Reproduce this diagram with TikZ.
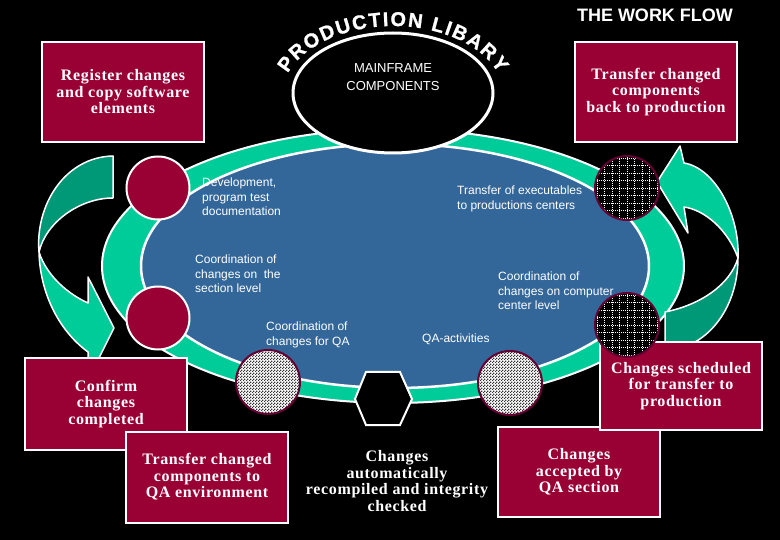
\documentclass[tikz,border=0pt]{standalone}
\usepackage{fontspec}
\setmainfont{Liberation Serif}
\setsansfont{Liberation Sans}
\usetikzlibrary{patterns,decorations.text,shapes.geometric}
\definecolor{crimson}{HTML}{990033}
\definecolor{rimred}{HTML}{660033}
\definecolor{ringteal}{HTML}{00CC99}
\definecolor{darkteal}{HTML}{009977}
\definecolor{lakeblue}{HTML}{336699}
\pgfdeclarepatternformonly{finechecker}{\pgfpointorigin}{\pgfqpoint{3pt}{3pt}}{\pgfqpoint{3pt}{3pt}}{%
  \pgfpathrectangle{\pgfpointorigin}{\pgfqpoint{1.5pt}{1.5pt}}%
  \pgfpathrectangle{\pgfqpoint{1.5pt}{1.5pt}}{\pgfqpoint{1.5pt}{1.5pt}}%
  \pgfusepath{fill}}
\newcommand{\cardfont}{\fontsize{16}{16.5}\selectfont\bfseries\addfontfeature{LetterSpace=4}}
\newcommand{\notefont}{\fontsize{12}{14.5}\selectfont\sffamily}
\newcommand{\arcfont}{\fontsize{20}{20}\selectfont\sffamily\bfseries\addfontfeature{FakeBold=1}}
\begin{document}
\begin{tikzpicture}[x=1pt,y=-1pt,
  card/.style={draw=white, line width=2pt, fill=crimson, text=white, font=\cardfont, align=center, inner sep=0pt, minimum width=162, minimum height=100},
  note/.style={text=white, font=\notefont, align=left, anchor=north west, inner sep=0pt},
  redstop/.style={circle, fill=crimson, draw=white, line width=2pt, minimum size=63, inner sep=0pt},
  gridstop/.style={circle, fill=black, draw=rimred, line width=2pt, minimum size=64, inner sep=0pt,
    path picture={\draw[white, line width=0.6pt, dash pattern=on 0.8pt off 1.2pt, step=7.5pt] (path picture bounding box.south west) grid (path picture bounding box.north east);}},
  checkstop/.style={circle, draw=rimred, line width=2pt, minimum size=64, inner sep=0pt, preaction={fill=white}, pattern=finechecker, pattern color=black!80},
  band/.style={draw=white, line width=1.5pt, line join=round}]
\useasboundingbox (0,0) rectangle (780,540);
\fill[black] (0,0) rectangle (780,540);

\filldraw[fill=ringteal, draw=white, line width=2pt] (393,266) ellipse[x radius=291, y radius=137];
\filldraw[fill=lakeblue, draw=white, line width=2.5pt] (395,266) ellipse[x radius=254, y radius=122];
\node[ellipse, fill=black, draw=white, line width=3pt, minimum width=200, minimum height=120] (mainframe) at (393,93) {};
\path[decorate, decoration={text along path, text color=white, text align=fit to path,
  text={|\arcfont|PRODUCTION LIBARY}}]
  (287.8,73.4) arc[start angle=200, end angle=340, x radius=112, y radius=72];

\filldraw[band, fill=darkteal] (113,156) -- (113,198) .. controls (80,198) and (46,222) .. (39,252) .. controls (35,205) and (65,157) .. (113,156) -- cycle;
\filldraw[band, fill=ringteal] (39,252) .. controls (40,292) and (58,330) .. (88,352) -- (88,380) -- (114,328) -- (88,277) -- (88,303) .. controls (70,295) and (47,277) .. (39,252) -- cycle;
\filldraw[band, fill=darkteal] (665,312) -- (665,350) .. controls (705,350) and (738,310) .. (738,258) .. controls (730,285) and (700,305) .. (665,312) -- cycle;
\filldraw[band, fill=ringteal] (738,258) .. controls (740,215) and (715,168) .. (684,163) -- (680,146) -- (657,182) -- (688,233) -- (684,207) .. controls (705,210) and (728,230) .. (738,258) -- cycle;

\node[card] (register) at (123,92) {Register changes\\and copy software\\elements};
\node[card] (backprod) at (656,92) {Transfer changed\\components\\back to production};
\node[card, minimum height=90] (accepted) at (579,472) {Changes\\accepted by\\QA section};
\node[card, minimum height=88] (scheduled) at (681,386) {Changes scheduled\\for transfer to\\production};
\node[card, minimum height=91] (confirm) at (106,404) {Confirm\\changes\\completed};
\node[card, minimum height=91] (toqa) at (207,477) {Transfer changed\\components to\\QA environment};
\node[text=white, font=\cardfont, align=center] (recompiled) at (397,481) {Changes\\automatically\\recompiled and integrity\\checked};

\node[redstop] (devstop) at (158,188) {};
\node[redstop] (sectstop) at (158,318) {};
\node[gridstop] (execstop) at (627,188) {};
\node[gridstop] (cctrstop) at (627,325) {};
\node[checkstop] (forqastop) at (268,382) {};
\node[checkstop] (qastop) at (510,383) {};
\filldraw[fill=black, draw=white, line width=2pt] (355,399) -- (366,372) -- (400,372) -- (412,399) -- (400,425) -- (366,425) -- cycle;

\node[text=white, font=\fontsize{13}{18}\selectfont\sffamily, align=center, anchor=north] (frametxt) at (393,60) {MAINFRAME\\COMPONENTS};
\node[text=white, font=\fontsize{18}{18}\selectfont\sffamily\bfseries] (title) at (655,15) {THE WORK FLOW};
\node[note] (devtxt) at (202,178) {Development,\\program test\\documentation};
\node[note] (secttxt) at (195,255) {Coordination of\\changes on\ \ the\\section level};
\node[note] (forqatxt) at (266,322) {Coordination of\\changes for QA};
\node[note] (qatxt) at (422,334) {QA-activities};
\node[note] (exectxt) at (457,186) {Transfer of executables\\to productions centers};
\node[note] (cctrtxt) at (498,272) {Coordination of\\changes on computer\\center level};
\end{tikzpicture}
\end{document}
